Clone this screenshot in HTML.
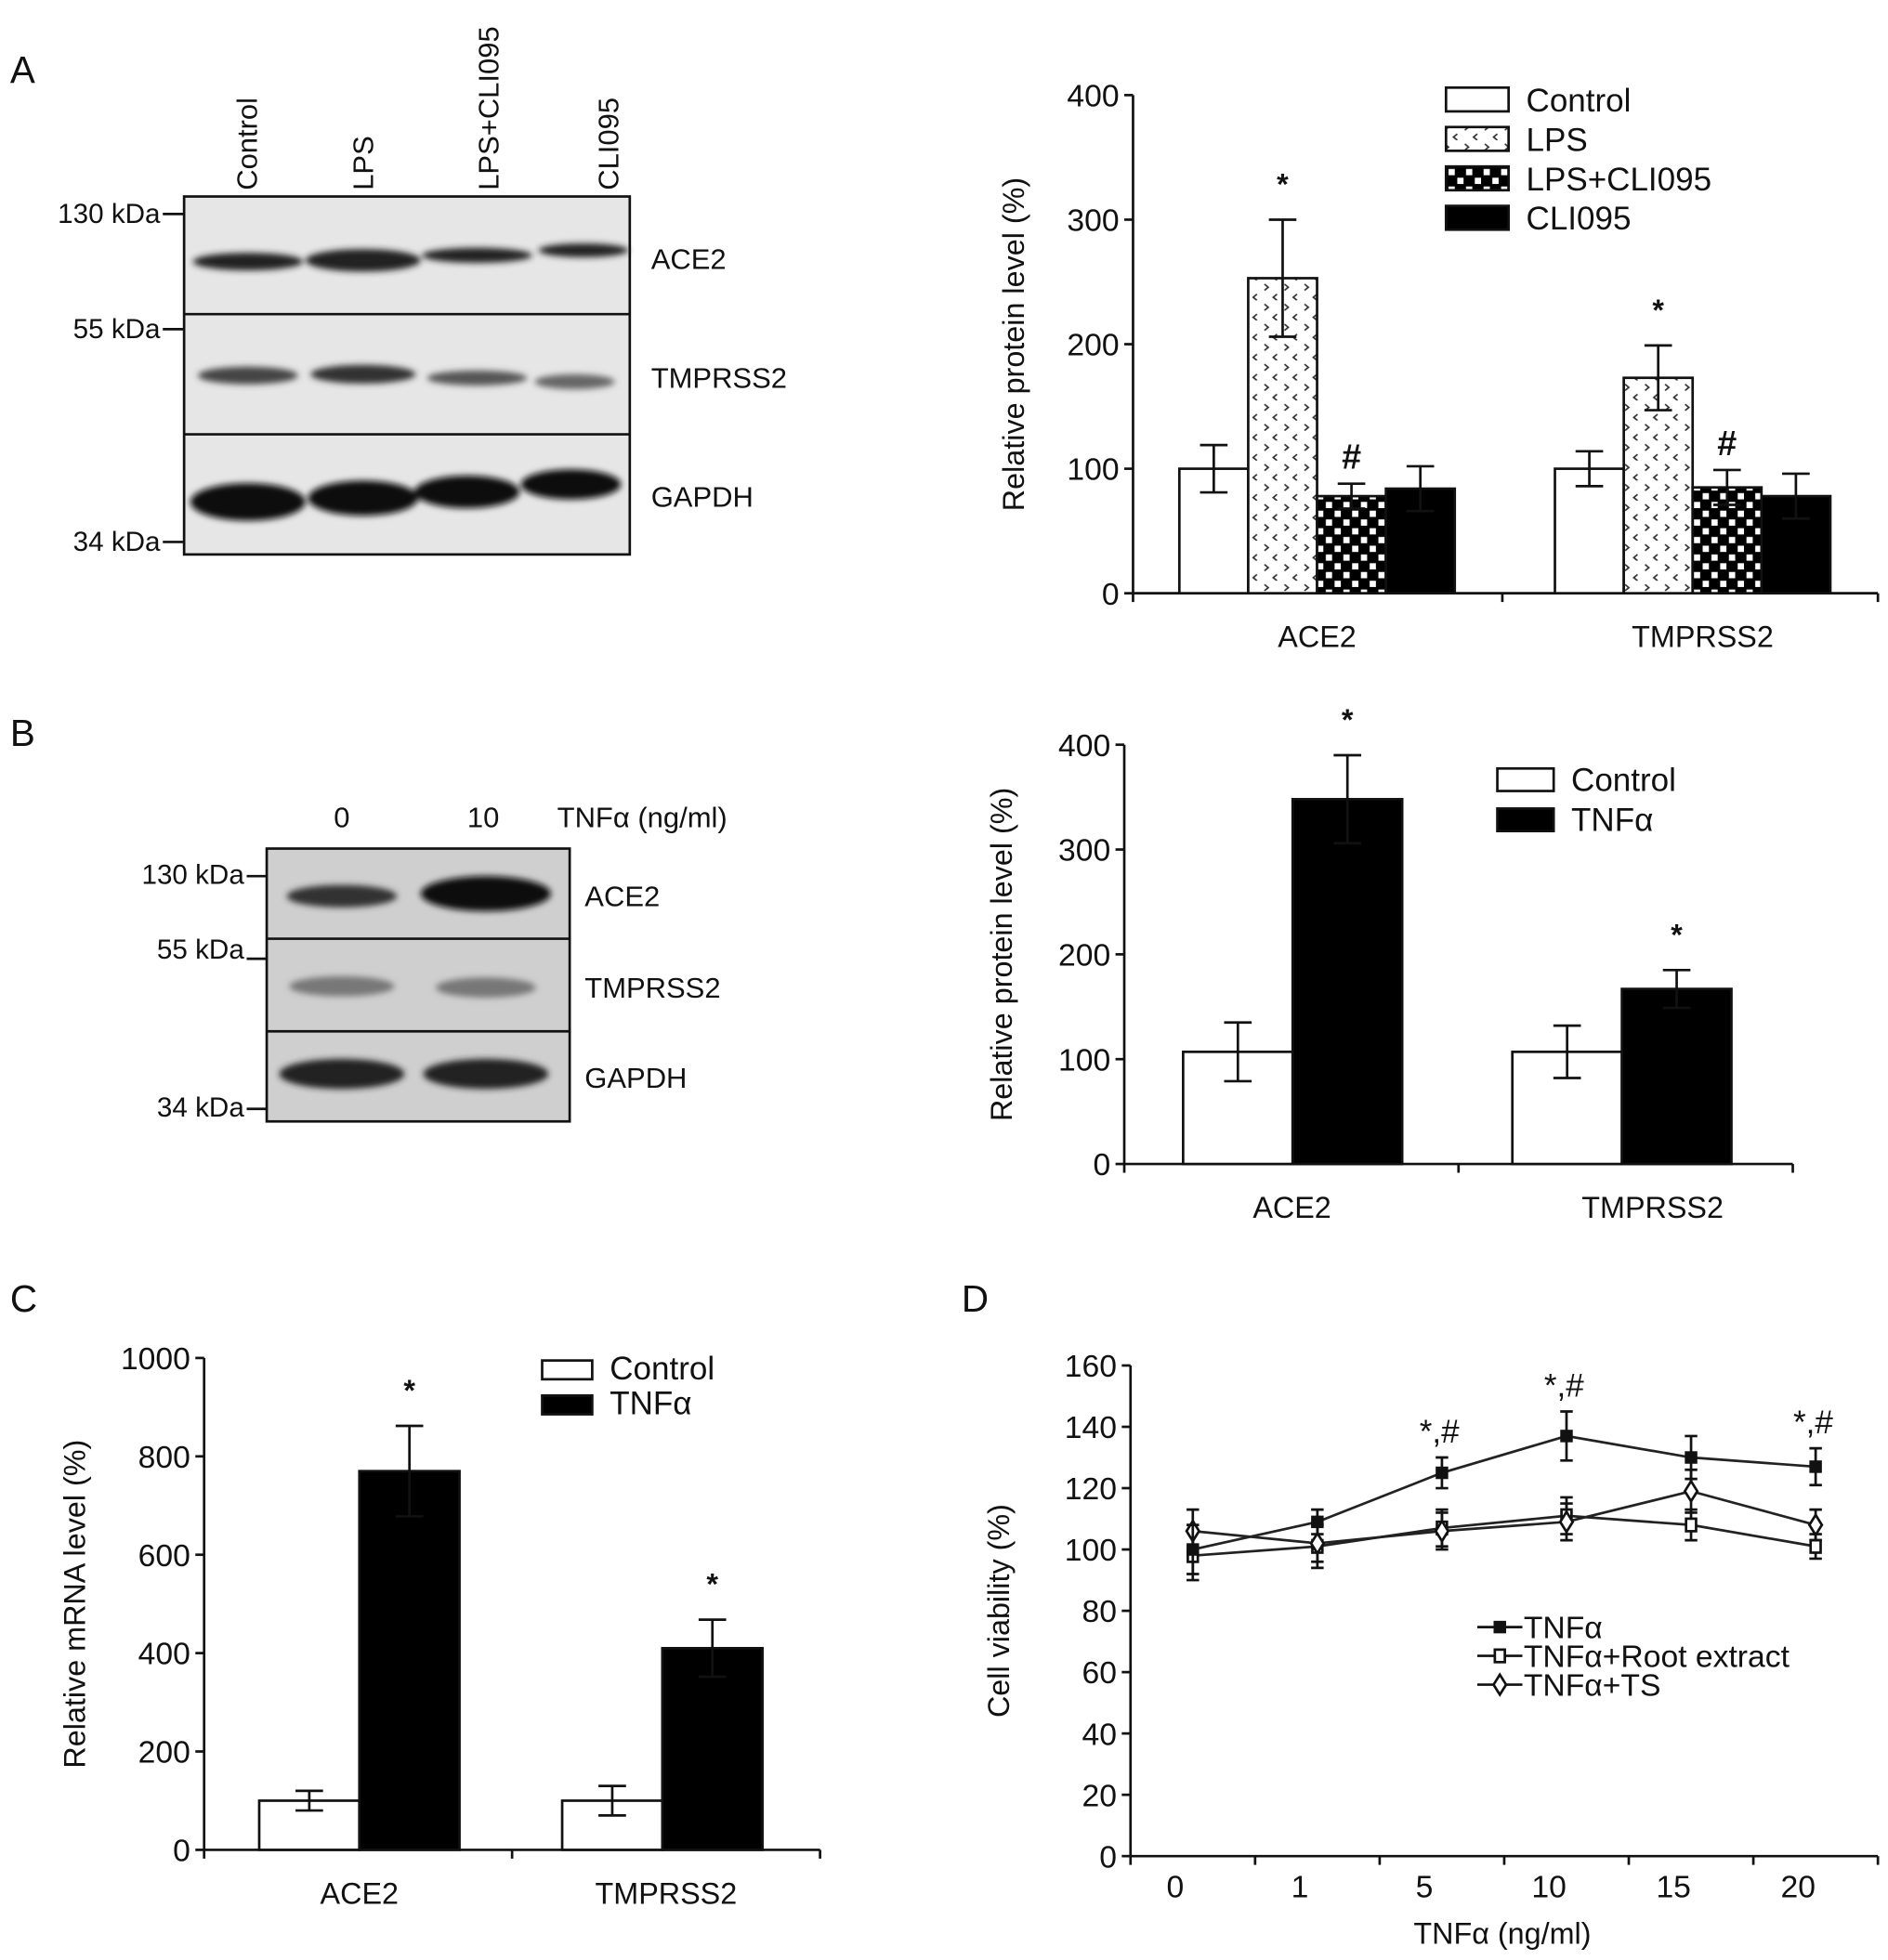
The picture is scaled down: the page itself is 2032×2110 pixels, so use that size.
<!DOCTYPE html>
<html><head><meta charset="utf-8"><style>html,body{margin:0;padding:0;background:#fff}svg{display:block}text{font-family:"Liberation Sans",sans-serif;fill:#111}</style></head>
<body>
<svg id="fig" width="2032" height="2110" viewBox="0 0 1508 1566" xmlns="http://www.w3.org/2000/svg">
<defs>
<pattern id="pLPS" width="16" height="16" patternUnits="userSpaceOnUse"><rect width="16" height="16" fill="#fff"/><path d="M2 3 l3 2.5 l-3 2.5 M12 11 l-3 2.5 l3 2.5" stroke="#333" stroke-width="1.3" fill="none"/></pattern>
<pattern id="pChk" width="14" height="14" patternUnits="userSpaceOnUse"><rect width="14" height="14" fill="#000"/><rect x="2" y="2" width="5" height="5" fill="#fff"/><rect x="9" y="9" width="5" height="5" fill="#fff"/></pattern>
<filter id="blur"><feGaussianBlur stdDeviation="2.5"/></filter>
</defs>

<text x="8" y="66" font-size="30">A</text>
<text x="8" y="596" font-size="30">B</text>
<text x="8" y="1048" font-size="30">C</text>
<text x="768" y="1048" font-size="30">D</text>

<g>
<rect x="147" y="157" width="356" height="286" fill="#e6e6e6" stroke="#111" stroke-width="2"/>
<line x1="147" y1="251" x2="503" y2="251" stroke="#111" stroke-width="2"/>
<line x1="147" y1="347" x2="503" y2="347" stroke="#111" stroke-width="2"/>
<g filter="url(#blur)" fill="#222">
<ellipse cx="198" cy="209" rx="44" ry="7"/><ellipse cx="290" cy="208" rx="46" ry="9"/><ellipse cx="381" cy="204" rx="44" ry="6"/><ellipse cx="466" cy="200" rx="36" ry="5.5"/>
<ellipse cx="198" cy="300" rx="40" ry="7" fill="#444"/><ellipse cx="290" cy="299" rx="42" ry="7.5" fill="#333"/><ellipse cx="381" cy="302" rx="40" ry="6" fill="#555"/><ellipse cx="459" cy="305" rx="32" ry="6" fill="#666"/>
<ellipse cx="198" cy="401" rx="46" ry="15" fill="#111"/><ellipse cx="290" cy="398" rx="44" ry="14" fill="#111"/><ellipse cx="373" cy="393" rx="42" ry="13" fill="#111"/><ellipse cx="456" cy="387" rx="40" ry="12" fill="#111"/>
</g>
<text font-size="23" transform="translate(205,152) rotate(-90)">Control</text>
<text font-size="23" transform="translate(298,152) rotate(-90)">LPS</text>
<text font-size="23" transform="translate(398,152) rotate(-90)">LPS+CLI095</text>
<text font-size="23" transform="translate(494,152) rotate(-90)">CLI095</text>
<text x="520" y="215" font-size="23">ACE2</text><text x="520" y="310" font-size="23">TMPRSS2</text><text x="520" y="405" font-size="23">GAPDH</text>
<text x="128" y="178" font-size="22" text-anchor="end">130 kDa</text><line x1="130" y1="171" x2="147" y2="171" stroke="#111" stroke-width="2"/>
<text x="128" y="270" font-size="22" text-anchor="end">55 kDa</text><line x1="130" y1="263" x2="147" y2="263" stroke="#111" stroke-width="2"/>
<text x="128" y="440" font-size="22" text-anchor="end">34 kDa</text><line x1="130" y1="433" x2="147" y2="433" stroke="#111" stroke-width="2"/>
</g>

<g>
<rect x="213" y="678" width="242" height="218" fill="#cfcfcf" stroke="#111" stroke-width="2"/>
<line x1="213" y1="750" x2="455" y2="750" stroke="#111" stroke-width="2"/>
<line x1="213" y1="824" x2="455" y2="824" stroke="#111" stroke-width="2"/>
<g filter="url(#blur)">
<ellipse cx="273" cy="716" rx="44" ry="9" fill="#333"/><ellipse cx="388" cy="714" rx="52" ry="14" fill="#111"/>
<ellipse cx="273" cy="788" rx="42" ry="8" fill="#777"/><ellipse cx="388" cy="789" rx="40" ry="8" fill="#777"/>
<ellipse cx="273" cy="858" rx="50" ry="12" fill="#222"/><ellipse cx="388" cy="858" rx="50" ry="12" fill="#222"/>
</g>
<text x="273" y="661" font-size="23" text-anchor="middle">0</text><text x="386" y="661" font-size="23" text-anchor="middle">10</text>
<text x="445" y="661" font-size="23">TNFα (ng/ml)</text>
<text x="467" y="724" font-size="23">ACE2</text><text x="467" y="797" font-size="23">TMPRSS2</text><text x="467" y="869" font-size="23">GAPDH</text>
<text x="195" y="706" font-size="22" text-anchor="end">130 kDa</text><line x1="197" y1="700" x2="213" y2="700" stroke="#111" stroke-width="2"/>
<text x="195" y="766" font-size="22" text-anchor="end">55 kDa</text><line x1="197" y1="766" x2="213" y2="766" stroke="#111" stroke-width="2"/>
<text x="195" y="892" font-size="22" text-anchor="end">34 kDa</text><line x1="197" y1="886" x2="213" y2="886" stroke="#111" stroke-width="2"/>
</g>

<g id="charts"></g>
</svg>
<script>
const aGroups = ["ACE2", "TMPRSS2"];
const aSeries = ["Control", "LPS", "LPS+CLI095", "CLI095"];
const aControl = [100, 100];
const aLPS = [253, 173];
const aLPSCLI = [78, 85];
const aCLI = [84, 78];
const aErr = [[19, 14], [47, 26], [10, 14], [18, 18]];
const aTicks = [0, 100, 200, 300, 400];
const aMarks = [["", ""], ["*", "*"], ["#", "#"], ["", ""]];
const bGroups = ["ACE2", "TMPRSS2"];
const bSeries = ["Control", "TNFα"];
const bControl = [107, 107];
const bTNF = [348, 167];
const bErr = [[28, 25], [42, 18]];
const bTicks = [0, 100, 200, 300, 400];
const cGroups = ["ACE2", "TMPRSS2"];
const cControl = [100, 100];
const cTNF = [770, 410];
const cErr = [[20, 30], [92, 58]];
const cTicks = [0, 200, 400, 600, 800, 1000];
const dCats = ["0", "1", "5", "10", "15", "20"];
const dTNF = [100, 109, 125, 137, 130, 127];
const dTNFErr = [8, 4, 5, 8, 7, 6];
const dRoot = [98, 101, 107, 111, 108, 101];
const dRootErr = [8, 7, 6, 6, 5, 4];
const dTS = [106, 102, 106, 109, 119, 108];
const dTSErr = [7, 6, 6, 6, 7, 5];
const dTicks = [0, 20, 40, 60, 80, 100, 120, 140, 160];
const dSig = ["", "", "*,#", "*,#", "", "*,#"];

const NS = "http://www.w3.org/2000/svg";
const root = document.getElementById("charts");
function el(tag, attrs, parent, txt) {
  const e = document.createElementNS(NS, tag);
  for (const k in attrs) e.setAttribute(k, attrs[k]);
  if (txt !== undefined) e.textContent = txt;
  (parent || root).appendChild(e);
  return e;
}
function group(name) {
  const g = el("g", {});
  
  
  return g;
}
function yAxis(g, x, y0, y1, vmax, ticks, title, tx) {
  const sy = v => y0 - (v / vmax) * (y0 - y1);
  el("line", {x1: x, y1: y0, x2: x, y2: y1, stroke: "#111", "stroke-width": 2}, g);
  ticks.forEach(t => {
    el("line", {x1: x - 7, y1: sy(t), x2: x, y2: sy(t), stroke: "#111", "stroke-width": 2}, g);
    const tl = el("text", {x: x - 11, y: sy(t) + 9, "font-size": 25, "text-anchor": "end"}, g, t);
    
    
  });
  const tt = el("text", {"font-size": 24, "text-anchor": "middle", transform: `translate(${tx},${(y0 + y1) / 2}) rotate(-90)`}, g, title);
  
  
  return sy;
}
function errBar(g, cx, ytop, ylow, w) {
  el("path", {d: `M${cx} ${ytop} V${ylow} M${cx - w} ${ytop} H${cx + w} M${cx - w} ${ylow} H${cx + w}`, stroke: "#111", "stroke-width": 2, fill: "none"}, g);
}
function barChart(opts) {
  const g = group(opts.name);
  const sy = yAxis(g, opts.x0, opts.y0, opts.y1, opts.vmax, opts.ticks, opts.title, opts.tx);
  el("line", {x1: opts.x0, y1: opts.y0, x2: opts.xend, y2: opts.y0, stroke: "#111", "stroke-width": 2}, g);
  [opts.x0, opts.xmid, opts.xend].forEach(x => el("line", {x1: x, y1: opts.y0, x2: x, y2: opts.y0 + 7, stroke: "#111", "stroke-width": 2}, g));
  opts.groups.forEach((gn, gi) => {
    const start = opts.gStart[gi];
    opts.series.forEach((vals, si) => {
      const v = vals[gi];
      const bx = start + si * opts.bw;
      const r = el("rect", {x: bx, y: sy(v), width: opts.bw, height: opts.y0 - sy(v), fill: opts.fills[si], stroke: "#111", "stroke-width": 2}, g);
      
      
      const e = opts.err[si][gi];
      const cx = bx + opts.bw / 2;
      errBar(g, cx, sy(v + e), sy(v - e), 11);
      const m = opts.marks ? opts.marks[si][gi] : "";
      if (m) {
        const t = el("text", {x: cx, y: m === "#" ? sy(v + e) - 12 : sy(v + e) - 20, "font-size": m === "#" ? 28 : 24, "font-weight": "bold", "text-anchor": "middle"}, g, m);
        
        
      }
    });
    const lt = el("text", {x: opts.labelX[gi], y: opts.y0 + 43, "font-size": 24, "text-anchor": "middle"}, g, gn);
    
    
  });
  opts.series.forEach((_, si) => {
    const ly = opts.legY + si * opts.legDy;
    const r = el("rect", {x: opts.legX, y: ly, width: opts.legW, height: opts.legH, fill: opts.fills[si], stroke: "#111", "stroke-width": 2}, g);
    
    
    const t = el("text", {x: opts.legX + opts.legW + 14, y: ly + opts.legH, "font-size": 26}, g, opts.sNames[si]);
    
    
  });
}

barChart({name: "chart-a", x0: 905, y0: 474, y1: 76, vmax: 400, ticks: aTicks, title: "Relative protein level (%)", tx: 818,
  xend: 1500, xmid: 1200, groups: aGroups, gStart: [942, 1242], bw: 55, series: [aControl, aLPS, aLPSCLI, aCLI],
  sNames: aSeries, fills: ["#fff", "url(#pLPS)", "url(#pChk)", "#000"], err: aErr, marks: aMarks, labelX: [1052, 1360],
  legX: 1155, legY: 70, legDy: 31.5, legW: 50, legH: 19});

barChart({name: "chart-b", x0: 898, y0: 930, y1: 595, vmax: 400, ticks: bTicks, title: "Relative protein level (%)", tx: 808,
  xend: 1432, xmid: 1165, groups: bGroups, gStart: [945, 1208], bw: 87.5, series: [bControl, bTNF],
  sNames: bSeries, fills: ["#fff", "#000"], err: bErr, marks: [["", ""], ["*", "*"]], labelX: [1032, 1320],
  legX: 1196, legY: 614, legDy: 32, legW: 45, legH: 18});

barChart({name: "chart-c", x0: 163, y0: 1478, y1: 1085, vmax: 1000, ticks: cTicks, title: "Relative mRNA level (%)", tx: 68,
  xend: 655, xmid: 409, groups: cGroups, gStart: [207, 449], bw: 80, series: [cControl, cTNF],
  sNames: ["Control", "TNFα"], fills: ["#fff", "#000"], err: cErr, marks: [["", ""], ["*", "*"]], labelX: [287, 532],
  legX: 433, legY: 1087, legDy: 28, legW: 40, legH: 15});

(function () {
  const g = group("chart-d");
  const x0 = 903, y0 = 1483, y1 = 1091, xend = 1500;
  const sy = yAxis(g, x0, y0, y1, 160, dTicks, "Cell viability (%)", 806);
  el("line", {x1: x0, y1: y0, x2: xend, y2: y0, stroke: "#111", "stroke-width": 2}, g);
  const step = (xend - x0) / dCats.length;
  const sx = i => x0 + step * (i + 0.5);
  for (let i = 0; i <= dCats.length; i++) el("line", {x1: x0 + step * i, y1: y0, x2: x0 + step * i, y2: y0 + 7, stroke: "#111", "stroke-width": 2}, g);
  dCats.forEach((c, i) => {
    const t = el("text", {x: sx(i) - 14, y: y0 + 33, "font-size": 25, "text-anchor": "middle"}, g, c);
    
    
  });
  const xt = el("text", {x: 1200, y: 1553, "font-size": 24, "text-anchor": "middle"}, g, "TNFα (ng/ml)");
  
  
  const series = [[dRoot, dRootErr, "sq-open", "series-tnf-root-extract"], [dTS, dTSErr, "diamond", "series-tnf-ts"], [dTNF, dTNFErr, "sq-fill", "series-tnf"]];
  function marker(gg, shape, x, y) {
    if (shape === "sq-fill") el("rect", {x: x - 5, y: y - 5, width: 10, height: 10, fill: "#111"}, gg);
    else if (shape === "sq-open") el("rect", {x: x - 4, y: y - 5, width: 8, height: 10, fill: "#fff", stroke: "#111", "stroke-width": 2}, gg);
    else el("path", {d: `M${x} ${y - 8} L${x + 5} ${y} L${x} ${y + 8} L${x - 5} ${y} Z`, fill: "#fff", stroke: "#111", "stroke-width": 2}, gg);
  }
  series.forEach(([vals, errs, shape, name]) => {
    const sg = el("g", {}, g);
    
    
    el("polyline", {points: vals.map((v, i) => `${sx(i)},${sy(v)}`).join(" "), fill: "none", stroke: "#222", "stroke-width": 2}, sg);
    vals.forEach((v, i) => {
      errBar(sg, sx(i), sy(v + errs[i]), sy(v - errs[i]), 5);
      marker(sg, shape, sx(i), sy(v));
    });
  });
  dSig.forEach((s, i) => {
    if (!s) return;
    const top = sy(dTNF[i] + dTNFErr[i]);
    const t = el("text", {x: sx(i) - 2, y: top - 12, "font-size": 26, "text-anchor": "middle"}, g, s);
    
    
  });
  const leg = [["sq-fill", "TNFα"], ["sq-open", "TNFα+Root extract"], ["diamond", "TNFα+TS"]];
  leg.forEach(([shape, label], k) => {
    const ly = 1300 + k * 23;
    const lg = el("g", {}, g);
    
    
    el("line", {x1: 1180, y1: ly, x2: 1216, y2: ly, stroke: "#111", "stroke-width": 2}, lg);
    marker(lg, shape, 1198, ly);
    el("text", {x: 1217, y: ly + 9, "font-size": 25}, lg, label);
  });
})();
</script>
</body></html>
